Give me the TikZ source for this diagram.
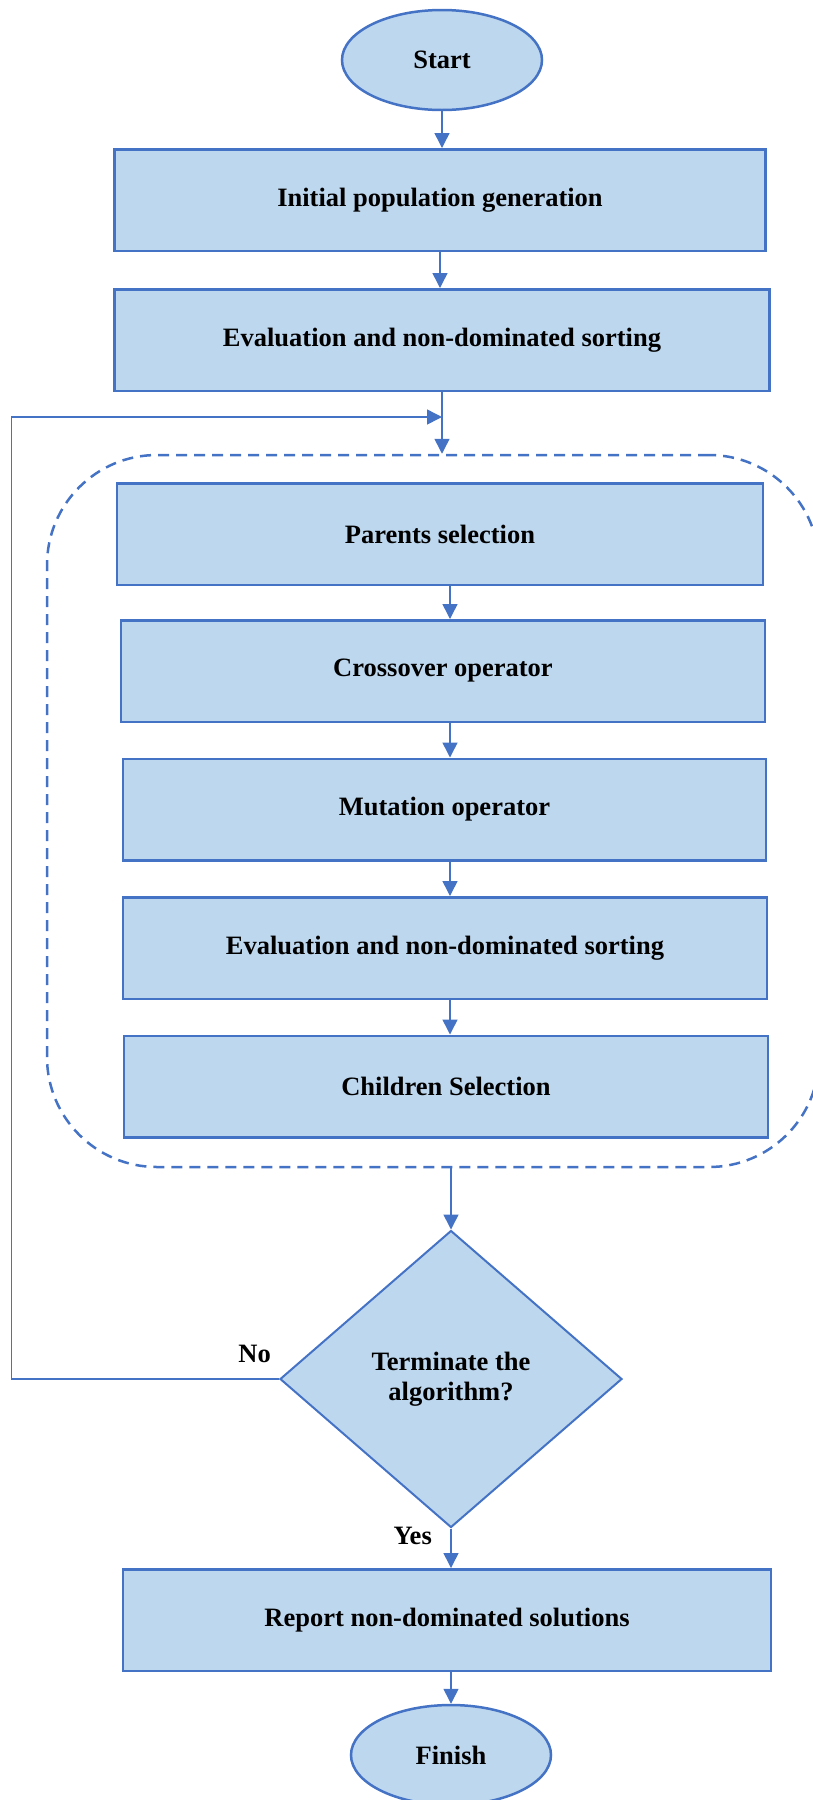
\documentclass[tikz,border=0pt]{standalone}
\usepackage{fontspec}
\setmainfont{Liberation Serif}
\usetikzlibrary{shapes.geometric,arrows.meta}

\definecolor{boxfill}{HTML}{BDD7EE}
\definecolor{boxline}{HTML}{4472C4}

\begin{document}
\begin{tikzpicture}[x=1pt,y=-1pt,
    txt/.style={font=\bfseries\fontsize{26.5}{30}\selectfont},
    stepbox/.style={rectangle,draw=boxline,fill=boxfill,line width=2.5pt,minimum width=646pt,minimum height=101.5pt,txt},
    terminal/.style={ellipse,draw=boxline,fill=boxfill,line width=2.5pt,minimum width=200pt,minimum height=100pt,txt},
    decision/.style={diamond,draw=boxline,fill=boxfill,line width=2pt,minimum width=342pt,minimum height=297pt,inner sep=0pt,align=center,txt},
    loopbox/.style={rectangle,draw=boxline,line width=2.5pt,dash pattern=on 11pt off 7pt,rounded corners=110pt,minimum width=772pt,minimum height=712pt},
    flow/.style={draw=boxline,line width=1.5pt,-{Triangle[length=15pt,width=15pt]}},
    lbl/.style={inner sep=0pt,txt}]

\clip (0,0) rectangle (813,1800);

% Start and first steps
\node[terminal] (start) at (442,60) {Start};
\node[stepbox,minimum width=651pt] (init) at (440,200) {Initial population generation};
\node[stepbox,minimum width=655pt] (eval) at (442,340) {Evaluation and non-dominated sorting};

% Generation loop
\node[loopbox] (loop) at (433,811) {};
\node[stepbox] (parents) at (440,534) {Parents selection};
\node[stepbox,minimum width=644pt] (cross) at (443,671) {Crossover operator};
\node[stepbox,minimum width=643pt] (mutate) at (444.5,809.5) {Mutation operator};
\node[stepbox,minimum width=644pt] (evalb) at (445,948) {Evaluation and non-dominated sorting};
\node[stepbox,minimum width=644pt] (children) at (446,1086.5) {Children Selection};

% Stop test and end
\node[decision] (dec) at (451,1379) {Terminate the\\algorithm?};
\node[stepbox,minimum width=648pt] (report) at (447,1620) {Report non-dominated solutions};
\node[terminal] (finish) at (451,1755) {Finish};

\node[lbl,anchor=base east] (no) at ([xshift=-8pt,yshift=17pt]dec.west) {No};
\node[lbl,anchor=base east] (yes) at ([xshift=-19pt,yshift=-16pt]dec.south) {Yes};

\coordinate (spine) at (450,0);
\coordinate (back) at (11.5,0);
\coordinate (merge) at ([yshift=-25pt]eval.south);

% Edges
\draw[flow] (start.south) -- (start.south |- init.north);
\draw[flow] (init.south) -- (init.south |- eval.north);
\draw[flow] (eval.south) -- (eval.south |- loop.north);
\foreach \a/\b in {parents/cross,cross/mutate,mutate/evalb,evalb/children}
  \draw[flow] (\a.south -| spine) -- (\b.north -| spine);
\draw[flow] (loop.south -| dec) -- (dec.north);
\draw[flow] (dec.south) -- (dec.south |- report.north);
\draw[flow] (report.south -| finish) -- (finish.north);
\draw[flow] (dec.west) -- (dec.west -| back) |- (merge);
\end{tikzpicture}
\end{document}
